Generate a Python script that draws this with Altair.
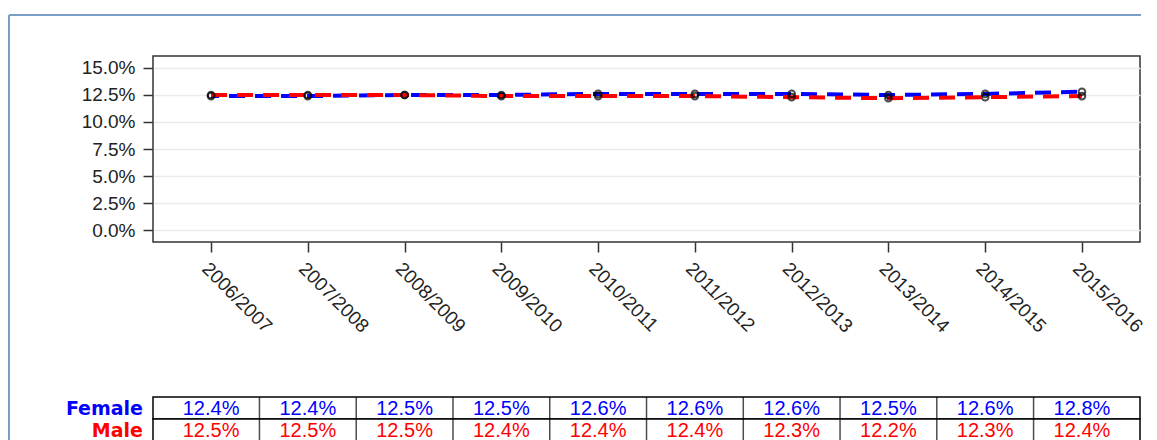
import altair as alt
import pandas as pd

categories = ["2006/2007", "2007/2008", "2008/2009", "2009/2010", "2010/2011",
              "2011/2012", "2012/2013", "2013/2014", "2014/2015", "2015/2016"]
female = [12.4, 12.4, 12.5, 12.5, 12.6, 12.6, 12.6, 12.5, 12.6, 12.8]
male = [12.5, 12.5, 12.5, 12.4, 12.4, 12.4, 12.3, 12.2, 12.3, 12.4]
series = ["Female", "Male"]
series_colors = ["#0000ff", "#ff0000"]
y_ticks = [0, 2.5, 5, 7.5, 10, 12.5, 15]

rows = []
for s, vals in zip(series, [female, male]):
    for c, v in zip(categories, vals):
        rows.append({"Year": c, "Sex": s, "Value": v})
df = pd.DataFrame(rows)
df_f = df[df.Sex == "Female"]
df_m = df[df.Sex == "Male"]

W = 987
H = 186
FONT = "Liberation Sans"
BFONT = "DejaVu Sans"
FRAME = "#7b9ec6"
TABLE_TOP = 341
ROW_H = 22

xscale = alt.Scale(type="point", domain=categories, padding=0.6)
yscale = alt.Scale(domain=[-1.11, 16.11], nice=False, zero=False)
cscale = alt.Scale(domain=series, range=series_colors)
color = alt.Color("Sex:N", scale=cscale, legend=None)

x_enc = alt.X("Year:N", sort=categories, scale=xscale,
              axis=alt.Axis(title=None, labelAngle=45, labelFontSize=19, labelFont=FONT,
                            labelColor="#222", tickSize=10, tickColor="#333", tickWidth=1.5,
                            domain=False, labelPadding=7))
y_enc = alt.Y("Value:Q", scale=yscale,
              axis=alt.Axis(title=None, values=y_ticks, labelExpr="format(datum.value, '.1f') + '%'",
                            labelFontSize=19, labelFont=FONT, labelColor="#222", tickSize=10,
                            tickColor="#333", tickWidth=1.5, domain=False, grid=True,
                            gridColor="#ebebeb", gridWidth=1.5, labelPadding=8))

line_f = alt.Chart(df_f).mark_line(strokeWidth=4, strokeDash=[16, 10], strokeDashOffset=8).encode(
    x=x_enc, y=y_enc, color=color)
line_m = alt.Chart(df_m).mark_line(strokeWidth=4, strokeDash=[16, 10]).encode(
    x=x_enc, y=y_enc, color=color)
pts = alt.Chart(df).mark_point(shape="circle", filled=False, color="black", size=45, strokeWidth=2).encode(
    x=x_enc, y=y_enc)

one = pd.DataFrame({"k": [0]})
frame_top = alt.Chart(one).mark_rule(color=FRAME, strokeWidth=2).encode(
    x=alt.value(-144), x2=alt.value(W + 1), y=alt.value(-41))
frame_left = alt.Chart(one).mark_rule(color=FRAME, strokeWidth=2).encode(
    x=alt.value(-144), y=alt.value(-41), y2=alt.value(400))

plot = alt.layer(frame_top, frame_left, line_f, line_m, pts)

# table (independent y band scale placed below the plot)
tyscale = alt.Scale(domain=series, range=[TABLE_TOP, TABLE_TOP + 2 * ROW_H],
                    paddingInner=0, paddingOuter=0)
ty = alt.Y("Sex:N", scale=tyscale, axis=None)

row_df = pd.DataFrame({"Sex": series})
row_boxes = alt.Chart(row_df).mark_rect(fill="white", stroke="black", strokeWidth=1.5).encode(
    x=alt.value(0), x2=alt.value(W), y=ty)
sep_df = pd.DataFrame([{"Year": c, "Sex": s} for c in categories[:-1] for s in series])
seps = alt.Chart(sep_df).mark_tick(orient="vertical", size=ROW_H, thickness=1.5, color="black").encode(
    x=x_enc, xOffset=alt.value(48.4), y=ty)
cells = alt.Chart(df).transform_calculate(label="format(datum.Value, '.1f') + '%'").mark_text(
    fontSize=20, font=FONT, dy=1).encode(x=x_enc, y=ty, text="label:N", color=color)
row_labels = alt.Chart(row_df).mark_text(fontSize=19, font=BFONT, fontWeight="bold",
                                         align="right", dy=1).encode(
    x=alt.value(-10), y=ty, text="Sex:N", color=color)

table = alt.layer(row_boxes, seps, cells, row_labels)

chart = alt.layer(plot, table).resolve_scale(y="independent").properties(
    width=W, height=H,
    padding={"left": 0, "top": 6, "right": 0, "bottom": 0}
).configure_view(stroke="#333", strokeWidth=1.5)

chart.save("out.html", embed_options={"renderer": "svg", "actions": False})
